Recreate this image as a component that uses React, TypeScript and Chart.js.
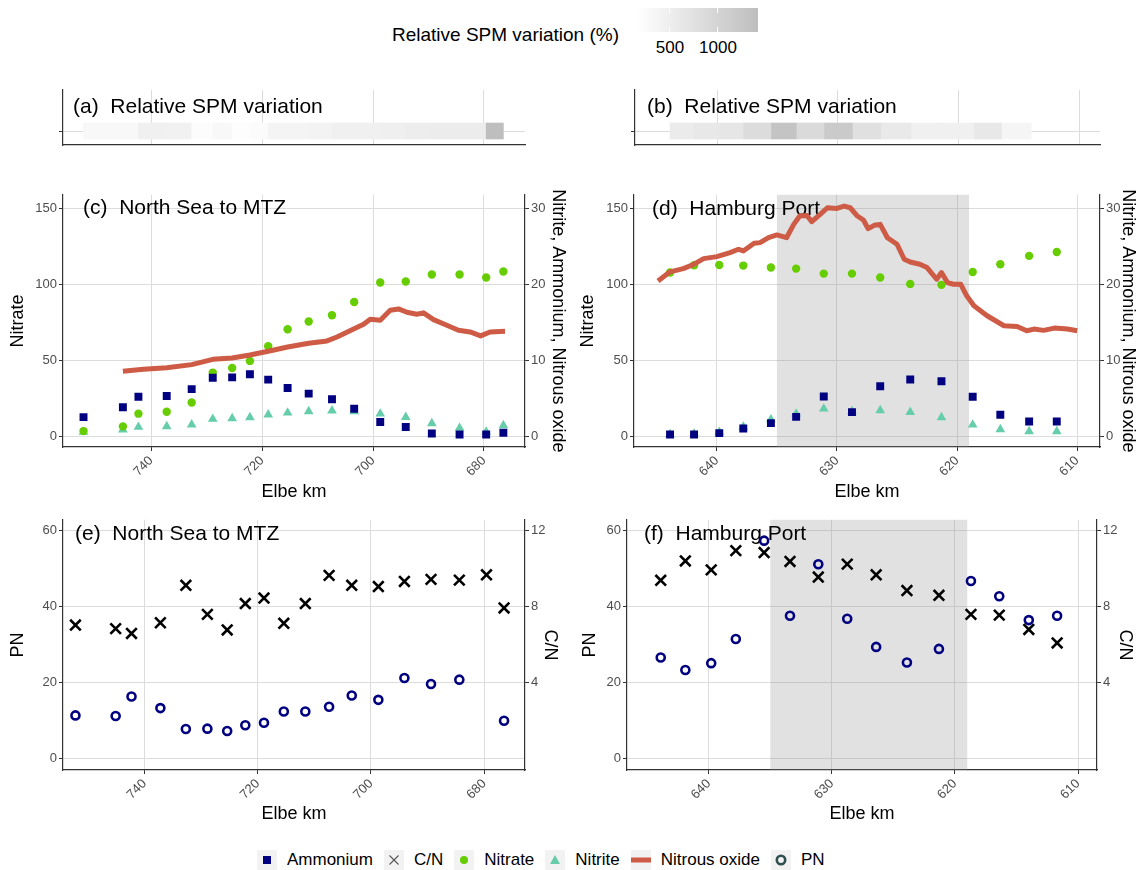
import React, { useEffect, useRef } from 'react';
import { Chart, registerables } from 'chart.js';

Chart.register(...registerables);

const FONT = '"Liberation Sans", Arial, Helvetica, sans-serif';

// ---------------- data: North Sea to MTZ ----------------
const kmNorth = [752.2, 745.1, 742.3, 737.2, 732.7, 728.9, 725.4, 722.2, 718.9, 715.4, 711.6, 707.4, 703.4, 698.7, 694.1, 689.4, 684.4, 679.6, 676.5];
const ammoniumNorth = [2.5, 3.8, 5.2, 5.3, 6.2, 7.7, 7.75, 8.15, 7.45, 6.35, 5.6, 4.85, 3.6, 1.85, 1.2, 0.35, 0.2, 0.2, 0.45];
const nitrateNorth = [3.3, 6.4, 14.8, 16.1, 22.2, 41.9, 44.9, 49.6, 59.3, 70.5, 75.6, 79.7, 88.5, 101.3, 102, 106.6, 106.6, 104.6, 108.6];
const nitriteNorth = [0.53, 0.84, 1.19, 1.28, 1.5, 2.25, 2.33, 2.47, 2.82, 3.08, 3.26, 3.35, 3.26, 2.95, 2.5, 1.67, 1.06, 0.57, 1.41];
const kmN2ONorth = [745.1, 741.4, 737.2, 732.7, 728.9, 725.4, 722.2, 718.9, 715.4, 711.6, 708.3, 706.5, 703.5, 701.7, 700.5, 698.7, 696.9, 695.4, 693.9, 692.1, 690.9, 689.1, 686.7, 684.6, 682.5, 680.6, 678.9, 676.2];
const n2oNorth = [8.55, 8.81, 9.03, 9.43, 10.13, 10.3, 10.7, 11.19, 11.76, 12.25, 12.56, 13.08, 14.14, 14.76, 15.42, 15.29, 16.6, 16.78, 16.34, 16.08, 16.26, 15.37, 14.63, 13.96, 13.74, 13.22, 13.74, 13.83];
const pnNorth = [11.3, 11.13, 16.26, 13.22, 7.74, 7.83, 7.22, 8.7, 9.39, 12.35, 12.35, 13.57, 16.52, 15.39, 21.13, 19.57, 20.7, null, 9.91];
const cnNorth = [7.01, 6.82, 6.57, 7.13, 9.1, 7.57, 6.75, 8.14, 8.43, 7.1, 8.14, 9.62, 9.1, 9.03, 9.3, 9.41, 9.37, 9.65, 7.91];
const spmNorth = [302, 302, 455, 436, 225, 302, 205, 244, 378, 378, 398, 455, 455, 475, 513, 532, 532, 1417];

// ---------------- data: Hamburg Port ----------------
const kmPort = [643.9, 641.9, 639.8, 637.8, 635.5, 633.4, 631.1, 628.75, 626.4, 623.9, 621.3, 618.7, 616.4, 614.0, 611.7];
const ammoniumPort = [0.22, 0.22, 0.39, 1.0, 1.71, 2.54, 5.22, 3.16, 6.58, 7.46, 7.24, 5.18, 2.81, 1.93, 1.93];
const nitratePort = [107.9, 112.7, 112.9, 112.5, 111.2, 110.5, 107.2, 107.2, 104.6, 100.4, 99.8, 108.3, 113.4, 118.9, 121.5];
const nitritePort = [0.22, 0.31, 0.53, 1.23, 2.19, 2.94, 3.6, 3.25, 3.38, 3.16, 2.46, 1.49, 0.88, 0.61, 0.61];
const kmN2OPort = [644.9, 643.9, 642.8, 641.9, 641.1, 640.0, 638.9, 638.2, 637.8, 636.9, 636.4, 635.7, 635.0, 634.2, 633.6, 633.1, 632.5, 632.1, 631.4, 630.8, 630.0, 629.4, 628.9, 628.3, 627.8, 627.4, 626.9, 626.4, 625.8, 625.0, 624.4, 623.9, 623.1, 622.5, 621.7, 621.3, 620.8, 620.3, 619.7, 619.2, 618.6, 617.5, 616.1, 615.0, 614.2, 613.6, 612.8, 611.9, 610.8, 610.0];
const n2oPort = [20.48, 21.67, 22.1, 22.68, 23.42, 23.68, 24.21, 24.65, 24.43, 25.44, 25.53, 26.18, 26.54, 26.18, 27.94, 29.04, 29.12, 28.29, 29.25, 30.13, 30.04, 30.35, 30.13, 29.04, 28.51, 27.37, 27.81, 27.94, 26.18, 25.31, 23.33, 22.98, 22.68, 22.24, 20.7, 21.58, 20.26, 20.04, 20.04, 18.51, 17.19, 15.88, 14.56, 14.47, 13.9, 14.12, 13.95, 14.25, 14.12, 13.9];
const pnPort = [26.52, 23.22, 25.04, 31.39, 57.22, 37.48, 51.04, 36.7, 29.3, 25.22, 28.78, 46.61, 42.61, 36.35, 37.48];
const cnPort = [9.36, 10.38, 9.91, 10.92, 10.82, 10.35, 9.53, 10.21, 9.65, 8.82, 8.57, 7.57, 7.53, 6.78, 6.07];
const spmPort = [552, 609, 648, 840, 1302, 879, 1186, 763, 590, 455, 455, 609, 359];
const shadePort = [635, 619];

// ---------------- ticks / scale ----------------
const ticksNorth = [680, 700, 720, 740];
const ticksPort = [610, 620, 630, 640];
const ticksNitrate = [0, 50, 100, 150];
const ticksRightNut = [0, 10, 20, 30];
const ticksPN = [0, 20, 40, 60];
const ticksCN = [4, 8, 12];
const spmLimits = [167, 1417];
const spmBreaks = [500, 1000];

// ---------------- styles ----------------
const GRID = '#dcdcdc';
const AXIS = '#333333';
const TICKTXT = '#4d4d4d';
const NAVY = '#000080';
const GREEN = '#66CD00';
const TEAL = '#66CDAA';
const N2O = '#CD5B45';
const TICK_FONT = { family: FONT, size: 13 };
const TITLE_FONT = { family: FONT, size: 18 };

function spmColor(v: number) {
  const t = Math.max(0, Math.min(1, (v - spmLimits[0]) / (spmLimits[1] - spmLimits[0])));
  const g = Math.round(255 - t * (255 - 190));
  return `rgb(${g},${g},${g})`;
}

const pts = (xs: number[], ys: (number | null)[]) => xs.map((x, i) => ({ x, y: ys[i] }));

const panelLabel = (text: string, dx: number, dy: number) => ({
  id: 'panelLabel',
  beforeDatasetsDraw(chart: any) {
    const { ctx, chartArea } = chart;
    ctx.save();
    ctx.font = `21px ${FONT}`;
    ctx.fillStyle = '#000';
    ctx.textBaseline = 'middle';
    ctx.textAlign = 'left';
    ctx.fillText(text, chartArea.left + dx, chartArea.top + dy);
    ctx.restore();
  },
});

const shadeBand = (range: number[]) => ({
  id: 'shadeBand',
  beforeDatasetsDraw(chart: any) {
    const { ctx, chartArea, scales } = chart;
    const a = scales.x.getPixelForValue(range[0]);
    const b = scales.x.getPixelForValue(range[1]);
    ctx.save();
    ctx.fillStyle = 'rgba(140,140,140,0.26)';
    ctx.fillRect(Math.min(a, b), chartArea.top, Math.abs(b - a), chartArea.bottom - chartArea.top);
    ctx.restore();
  },
});

function xScale(o: any) {
  return {
    type: 'linear',
    reverse: true,
    offset: false,
    min: o.xMin,
    max: o.xMax,
    afterBuildTicks: (s: any) => { s.ticks = o.xTicks.map((v: number) => ({ value: v })); },
    afterFit: (s: any) => { s.height = o.bottomH; },
    grid: { color: GRID, lineWidth: 1, offset: false, drawTicks: o.showX, tickLength: 4, tickColor: AXIS },
    border: { display: true, color: AXIS, width: 1.2 },
    ticks: {
      display: o.showX, autoSkip: false, minRotation: 45, maxRotation: 45,
      color: TICKTXT, font: TICK_FONT, padding: 2,
      callback: (v: any) => String(v),
    },
    title: o.showX
      ? { display: true, text: 'Elbe km', color: '#000', font: TITLE_FONT, padding: { top: 0, bottom: o.xTitlePad } }
      : { display: false },
  };
}

function yScale(o: any) {
  return {
    type: 'linear',
    position: o.position,
    offset: false,
    min: o.min,
    max: o.max,
    afterBuildTicks: (s: any) => { s.ticks = o.ticks.map((v: number) => ({ value: v })); },
    afterFit: (s: any) => { s.width = o.width; },
    grid: { display: true, offset: false, drawOnChartArea: o.gridOn, color: GRID, lineWidth: 1, tickLength: 4, tickColor: AXIS },
    border: { display: true, color: AXIS, width: 1.2 },
    ticks: { display: o.showLabels !== false, color: TICKTXT, font: TICK_FONT, padding: 2, callback: (v: any) => String(v) },
    title: o.title
      ? { display: true, text: o.title, color: '#000', font: TITLE_FONT, padding: { top: o.titlePad, bottom: 0 } }
      : { display: false },
  };
}

const baseOptions = (padTop: number, padRight: number) => ({
  responsive: false,
  animation: false,
  events: [],
  devicePixelRatio: 1,
  layout: { padding: { top: padTop, right: padRight, left: 0, bottom: 0 }, autoPadding: false },
  plugins: { legend: { display: false }, tooltip: { enabled: false } },
});

function tileConfig(o: any) {
  const data = o.values.map((v: number, i: number) => ({ x: [o.km[i], o.km[i + 1]], y: 0 }));
  return {
    type: 'bar',
    data: {
      datasets: [{
        data,
        backgroundColor: o.values.map(spmColor),
        borderWidth: 0,
        barThickness: 16,
      }],
    },
    options: {
      ...baseOptions(o.padTop, o.padRight),
      indexAxis: 'y',
      scales: {
        x: xScale({ ...o, showX: false }),
        y: yScale({ position: 'left', min: -1, max: 2.93, ticks: [0], width: o.leftW, gridOn: true, showLabels: false }),
      },
    },
    plugins: [panelLabel(o.label, o.labelDx, o.labelDy)],
  };
}

function nutrientConfig(o: any) {
  const plugins: any[] = [];
  if (o.shade) plugins.push(shadeBand(o.shade));
  plugins.push(panelLabel(o.label, o.labelDx, o.labelDy));
  return {
    type: 'line',
    data: {
      datasets: [
        { label: 'Nitrous oxide', data: pts(o.kmN2O, o.n2o), yAxisID: 'y2', borderColor: N2O, borderWidth: 5, pointRadius: 0, tension: 0, borderJoinStyle: 'round', order: 0 },
        { label: 'Ammonium', data: pts(o.km, o.ammonium), yAxisID: 'y2', showLine: false, pointStyle: 'rect', pointRadius: 5.6, pointBackgroundColor: NAVY, pointBorderWidth: 0, order: 1 },
        { label: 'Nitrate', data: pts(o.km, o.nitrate), yAxisID: 'y', showLine: false, pointStyle: 'circle', pointRadius: 4.2, pointBackgroundColor: GREEN, pointBorderWidth: 0, order: 2 },
        { label: 'Nitrite', data: pts(o.km, o.nitrite), yAxisID: 'y2', showLine: false, pointStyle: 'triangle', pointRadius: 5.6, pointBackgroundColor: TEAL, pointBorderWidth: 0, order: 3 },
      ],
    },
    options: {
      ...baseOptions(o.padTop, 0),
      scales: {
        x: xScale({ ...o, showX: true }),
        y: yScale({ position: 'left', min: -7.2, max: 159.2, ticks: ticksNitrate, width: o.leftW, gridOn: true, title: 'Nitrate', titlePad: o.leftTitlePad }),
        y2: yScale({ position: 'right', min: -1.44, max: 31.84, ticks: ticksRightNut, width: o.rightW, gridOn: false, title: 'Nitrite, Ammonium, Nitrous oxide', titlePad: o.rightTitlePad }),
      },
    },
    plugins,
  };
}

function pnConfig(o: any) {
  const plugins: any[] = [];
  if (o.shade) plugins.push(shadeBand(o.shade));
  plugins.push(panelLabel(o.label, o.labelDx, o.labelDy));
  return {
    type: 'line',
    data: {
      datasets: [
        { label: 'C/N', data: pts(o.km, o.cn), yAxisID: 'y2', showLine: false, pointStyle: 'crossRot', pointRadius: 7.5, pointBorderColor: '#000', pointBorderWidth: 2.6, order: 0 },
        { label: 'PN', data: pts(o.km, o.pn), yAxisID: 'y', showLine: false, pointStyle: 'circle', pointRadius: 4, pointBackgroundColor: 'rgba(0,0,0,0)', pointBorderColor: NAVY, pointBorderWidth: 2.6, order: 1 },
      ],
    },
    options: {
      ...baseOptions(o.padTop, 0),
      scales: {
        x: xScale({ ...o, showX: true }),
        y: yScale({ position: 'left', min: -3.04, max: 62.7, ticks: ticksPN, width: o.leftW, gridOn: true, title: 'PN', titlePad: o.leftTitlePad }),
        y2: yScale({ position: 'right', min: -0.608, max: 12.54, ticks: ticksCN, width: o.rightW, gridOn: false, title: 'C/N', titlePad: o.rightTitlePad }),
      },
    },
    plugins,
  };
}

function Panel({ left, top, width, height, build }: any) {
  const ref = useRef<HTMLCanvasElement>(null);
  useEffect(() => {
    const chart = new Chart(ref.current as HTMLCanvasElement, build());
    return () => chart.destroy();
  }, []);
  return (
    <canvas
      ref={ref}
      width={width}
      height={height}
      style={{ position: 'absolute', left, top, width, height }}
    />
  );
}

function LegendKey({ kind }: { kind: string }) {
  const box: React.CSSProperties = { width: 20, height: 20, background: '#f2f2f2', flex: '0 0 auto' };
  let sym: any = null;
  if (kind === 'Ammonium') sym = <rect x={6} y={6} width={8} height={8} fill={NAVY} />;
  if (kind === 'C/N') sym = <g stroke="#555" strokeWidth={1.1}><line x1={5.5} y1={5.5} x2={14.5} y2={14.5} /><line x1={14.5} y1={5.5} x2={5.5} y2={14.5} /></g>;
  if (kind === 'Nitrate') sym = <circle cx={10} cy={10} r={4} fill={GREEN} />;
  if (kind === 'Nitrite') sym = <polygon points="10,5 15,14 5,14" fill={TEAL} />;
  if (kind === 'Nitrous oxide') sym = <rect x={0} y={7.5} width={20} height={5} fill={N2O} />;
  if (kind === 'PN') sym = <circle cx={10} cy={10} r={4.2} fill="none" stroke="#2f4f4f" strokeWidth={2.6} />;
  return <svg width={20} height={20} style={box}>{sym}</svg>;
}

const legendItems = ['Ammonium', 'C/N', 'Nitrate', 'Nitrite', 'Nitrous oxide', 'PN'];

export default function App() {
  const cbLeft = 638;
  const cbWidth = 120;
  const frac = (v: number) => (v - spmLimits[0]) / (spmLimits[1] - spmLimits[0]);
  return (
    <div style={{ position: 'absolute', left: 0, top: 0, width: 1142, height: 870, background: '#fff', fontFamily: FONT, overflow: 'hidden' }}>
      {/* colour bar legend */}
      <div style={{ position: 'absolute', left: 392, top: 23, fontSize: 19, lineHeight: '24px', color: '#000', whiteSpace: 'nowrap' }}>
        Relative SPM variation (%)
      </div>
      <div style={{ position: 'absolute', left: cbLeft, top: 8, width: cbWidth, height: 24, background: `linear-gradient(to right, ${spmColor(spmLimits[0])}, ${spmColor(spmLimits[1])})` }}>
        {spmBreaks.map((b) => (
          <React.Fragment key={b}>
            <div style={{ position: 'absolute', left: frac(b) * cbWidth - 0.5, top: 0, width: 1, height: 5, background: '#fff' }} />
            <div style={{ position: 'absolute', left: frac(b) * cbWidth - 0.5, bottom: 0, width: 1, height: 5, background: '#fff' }} />
          </React.Fragment>
        ))}
      </div>
      {spmBreaks.map((b) => (
        <div key={b} style={{ position: 'absolute', left: cbLeft + frac(b) * cbWidth, top: 38, transform: 'translateX(-50%)', fontSize: 17, lineHeight: '20px', color: '#000' }}>
          {b}
        </div>
      ))}

      {/* (a) & (b) SPM strips */}
      <Panel left={0} top={85} width={570} height={65} build={() => tileConfig({
        km: kmNorth, values: spmNorth, xMin: 672.6, xMax: 755.9, xTicks: ticksNorth,
        padTop: 5, padRight: 45, leftW: 63, bottomH: 5,
        label: '(a)  Relative SPM variation', labelDx: 10, labelDy: 17,
      })} />
      <Panel left={570} top={85} width={572} height={65} build={() => tileConfig({
        km: kmPort, values: spmPort, xMin: 608.3, xMax: 646.8, xTicks: ticksPort,
        padTop: 5, padRight: 42, leftW: 65, bottomH: 5,
        label: '(b)  Relative SPM variation', labelDx: 12, labelDy: 17,
      })} />

      {/* (c) & (d) nutrients */}
      <Panel left={0} top={185} width={570} height={325} build={() => nutrientConfig({
        km: kmNorth, ammonium: ammoniumNorth, nitrate: nitrateNorth, nitrite: nitriteNorth,
        kmN2O: kmN2ONorth, n2o: n2oNorth,
        xMin: 672.6, xMax: 755.9, xTicks: ticksNorth,
        padTop: 9, leftW: 63, rightW: 45, bottomH: 63,
        leftTitlePad: 7, rightTitlePad: 1.5, xTitlePad: 7,
        label: '(c)  North Sea to MTZ', labelDx: 20, labelDy: 13,
      })} />
      <Panel left={570} top={185} width={572} height={325} build={() => nutrientConfig({
        km: kmPort, ammonium: ammoniumPort, nitrate: nitratePort, nitrite: nitritePort,
        kmN2O: kmN2OPort, n2o: n2oPort,
        xMin: 608.1, xMax: 646.9, xTicks: ticksPort,
        padTop: 9, leftW: 64, rightW: 42, bottomH: 63,
        leftTitlePad: 7, rightTitlePad: 3, xTitlePad: 7,
        label: '(d)  Hamburg Port', labelDx: 18, labelDy: 14, shade: shadePort,
      })} />

      {/* (e) & (f) PN and C/N */}
      <Panel left={0} top={510} width={570} height={330} build={() => pnConfig({
        km: kmNorth, pn: pnNorth, cn: cnNorth,
        xMin: 672.8, xMax: 754.4, xTicks: ticksNorth,
        padTop: 6, leftW: 63, rightW: 45, bottomH: 70,
        leftTitlePad: 7, rightTitlePad: 9, xTitlePad: 15,
        label: '(e)  North Sea to MTZ', labelDx: 12, labelDy: 14,
      })} />
      <Panel left={570} top={510} width={572} height={330} build={() => pnConfig({
        km: kmPort, pn: pnPort, cn: cnPort,
        xMin: 608.46, xMax: 646.64, xTicks: ticksPort,
        padTop: 6, leftW: 57, rightW: 45, bottomH: 70,
        leftTitlePad: 9, rightTitlePad: 6, xTitlePad: 15,
        label: '(f)  Hamburg Port', labelDx: 17, labelDy: 14, shade: shadePort,
      })} />

      {/* bottom legend */}
      <div style={{ position: 'absolute', left: 257, top: 850, display: 'flex', alignItems: 'center', height: 20 }}>
        {legendItems.map((k, i) => (
          <div key={k} style={{ display: 'flex', alignItems: 'center', marginRight: i < legendItems.length - 1 ? 11 : 0 }}>
            <LegendKey kind={k} />
            <span style={{ marginLeft: 10, fontSize: 17, lineHeight: '20px', color: '#000', whiteSpace: 'nowrap' }}>{k}</span>
          </div>
        ))}
      </div>
    </div>
  );
}
